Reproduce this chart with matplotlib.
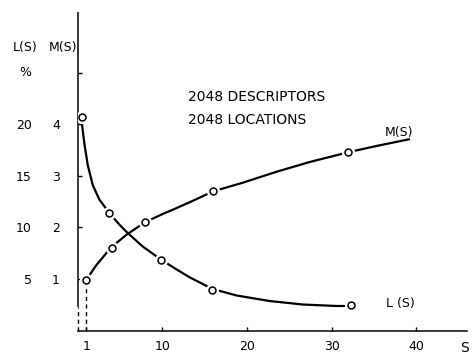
import matplotlib
matplotlib.use('Agg')
import matplotlib.pyplot as plt

# marker points
s_m = [1, 4, 8, 16, 32]
m_vals = [0.98, 1.61, 2.10, 2.70, 3.47]
s_l = [0.55, 3.7, 9.8, 15.9, 32.3]
l_vals = [20.7, 11.4, 6.8, 3.9, 2.45]  # percent

# hand drawn curve traces
m_curve_s = [1.0, 2.15, 3.92, 5.77, 7.93, 10.02, 11.59, 13.64, 16.0,
             19.54, 23.48, 27.41, 32.25, 35.29, 39.14]
m_curve_v = [0.98, 1.26, 1.61, 1.86, 2.10, 2.26, 2.37, 2.52, 2.70,
             2.87, 3.08, 3.27, 3.47, 3.58, 3.71]
l_curve_s = [0.50, 0.77, 1.17, 1.76, 2.54, 3.72, 4.90, 5.77, 7.66, 9.82,
             11.59, 13.25, 15.93, 18.76, 22.69, 26.62, 30.57, 32.25]
l_curve_v = [19.95, 18.18, 16.07, 14.13, 12.72, 11.41, 10.29, 9.56, 8.16,
             6.89, 5.97, 5.15, 4.03, 3.40, 2.86, 2.52, 2.38, 2.38]

x_ticks = [1, 10, 20, 30, 40]
m_ticks = [1, 2, 3, 4, 5]
m_tick_labels = ['1', '2', '3', '4', '']
l_ticks = [5, 10, 15, 20]

fs = 9
fig = plt.figure(figsize=(4.73, 3.55), dpi=100)
ax = fig.add_axes([0.1645, 0.069, 0.8237, 0.897])
ax2 = ax.twinx()

m_top = 6.18
ax.set_xlim(0, 46.07)
ax.set_ylim(0, m_top)
ax2.set_ylim(0, m_top * 5)

for a in (ax, ax2):
    for side in ('top', 'right', 'left'):
        a.spines[side].set_visible(False)
ax2.spines['bottom'].set_visible(False)
ax.spines['bottom'].set_linewidth(1.1)

# y axis: solid with a dashed piece at the bottom
ax.plot([0, 0], [0.45, m_top], color='k', lw=1.1, clip_on=False,
        solid_capstyle='butt')
ax.plot([0, 0], [0, 0.45], color='k', lw=1.0, ls=(0, (3, 2.5)),
        clip_on=False)
ax.plot([1, 1], [0, 0.9], color='k', lw=1.0, ls=(0, (3, 2.5)))

ax.set_xticks(x_ticks)
ax.set_xticklabels([str(v) for v in x_ticks])
ax.tick_params(axis='x', direction='in', length=3, width=1, pad=7,
               labelsize=fs)
ax.set_yticks(m_ticks)
ax.set_yticklabels(m_tick_labels)
ax.tick_params(axis='y', direction='in', length=3, width=1, pad=12.8,
               labelsize=fs)

ax2.yaxis.tick_left()
ax2.set_yticks(l_ticks)
ax2.set_yticklabels([str(v) for v in l_ticks])
ax2.tick_params(axis='y', length=0, pad=33, labelsize=fs)

# curves
ax2.plot(l_curve_s, l_curve_v, color='k', lw=1.6, solid_joinstyle='round')
ax.plot(m_curve_s, m_curve_v, color='k', lw=1.6, solid_joinstyle='round')
ax2.plot(s_l, l_vals, 'o', ms=8.5, mfc='white', mec='white', zorder=4)
ax2.plot(s_l, l_vals, 'o', ms=5, mfc='white', mec='k', mew=1.1, zorder=5)
ax.plot(s_m, m_vals, 'o', ms=8.5, mfc='white', mec='white', zorder=4)
ax.plot(s_m, m_vals, 'o', ms=5, mfc='white', mec='k', mew=1.1, zorder=5)

# texts
ax.text(13.0, 4.53, '2048 DESCRIPTORS', fontsize=10, va='center')
ax.text(13.0, 4.09, '2048 LOCATIONS', fontsize=10, va='center')
ax.text(38.0, 3.85, 'M(S)', fontsize=fs, ha='center', va='center')
ax.text(36.4, 0.53, 'L (S)', fontsize=fs, ha='left', va='center')
ax.text(45.7, -0.34, 'S', fontsize=10, ha='center', va='center',
        clip_on=False)
ax.text(-6.23, 5.49, 'L(S)', fontsize=fs, ha='center', va='center',
        clip_on=False)
ax.text(-1.8, 5.49, 'M(S)', fontsize=fs, ha='center', va='center',
        clip_on=False)
ax.text(-6.23, 5.0, '%', fontsize=fs, ha='center', va='center',
        clip_on=False)

fig.savefig('out.png', dpi=100, facecolor='white')
